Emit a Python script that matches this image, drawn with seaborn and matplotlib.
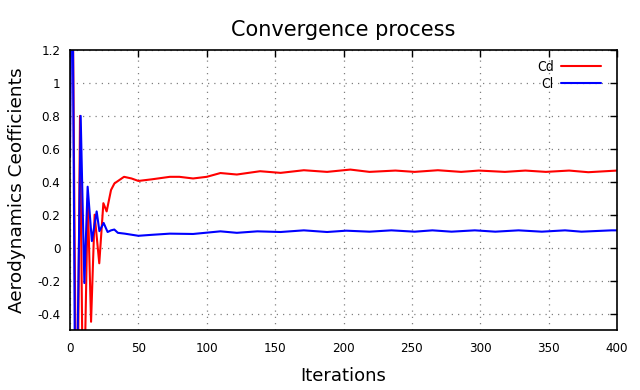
import pandas as pd
import matplotlib
matplotlib.use('Agg')
import matplotlib.pyplot as plt
from matplotlib.ticker import FormatStrFormatter
import seaborn as sns

# values
cd_iter = [0, 2, 4, 6, 7.3, 9, 11, 13, 15.4, 18, 21.4, 24.4, 26.8, 30, 32.5, 36, 39.5, 45,
           50, 55, 60, 73, 80, 90, 100, 110, 122, 139, 154, 171, 188, 205, 219, 238,
           252, 269, 286, 299, 318, 333, 348, 365, 379, 400]
cd_vals = [1.5, 1.5, -0.6, -0.6, 0.8, -0.6, -0.6, 0.3, -0.45, 0.2, -0.095, 0.27, 0.22, 0.35,
           0.39, 0.41, 0.43, 0.42, 0.405, 0.41, 0.415, 0.43, 0.43, 0.42, 0.43, 0.453, 0.444,
           0.464, 0.454, 0.47, 0.46, 0.474, 0.46, 0.468, 0.46, 0.47, 0.46, 0.468, 0.46,
           0.468, 0.46, 0.468, 0.458, 0.468]

cl_iter = [0, 1, 2, 3.5, 5.5, 7.8, 10.5, 12.9, 16, 19.5, 21.5, 24.6, 27.5, 30, 32.4, 35, 40,
           50, 60, 73, 90, 110, 122, 137, 154, 171, 188, 202, 219, 235, 252, 265, 279,
           296, 311, 328, 345, 362, 374, 396, 400]
cl_vals = [0.55, 1.5, 1.5, -0.6, -0.6, 0.8, -0.215, 0.37, 0.04, 0.22, 0.1, 0.15, 0.095, 0.105,
           0.11, 0.09, 0.085, 0.072, 0.078, 0.085, 0.083, 0.099, 0.09, 0.099, 0.095, 0.105,
           0.095, 0.103, 0.097, 0.105, 0.097, 0.105, 0.097, 0.105, 0.097, 0.105, 0.097,
           0.105, 0.097, 0.105, 0.105]

df = pd.concat([
    pd.DataFrame({'iter': cd_iter, 'value': cd_vals, 'coef': 'Cd'}),
    pd.DataFrame({'iter': cl_iter, 'value': cl_vals, 'coef': 'Cl'}),
])

sns.set_style('white')
plt.rcParams['font.family'] = ['DejaVu Sans']
plt.rcParams['font.stretch'] = 'condensed'
plt.rcParams['text.color'] = 'black'
plt.rcParams['axes.labelcolor'] = 'black'

fig = plt.figure(figsize=(6.4, 3.9), dpi=100)
ax = fig.add_axes([70/640, 1-330/390, 547/640, 280/390])

sns.lineplot(data=df, x='iter', y='value', hue='coef', palette={'Cd': '#ff0000', 'Cl': '#0000ff'},
             estimator=None, sort=False, linewidth=1.5, ax=ax)

ax.set_xlim(0, 400)
ax.set_ylim(-0.5, 1.2)
ax.set_xticks(range(0, 401, 50))
ax.set_yticks([-0.4, -0.2, 0, 0.2, 0.4, 0.6, 0.8, 1, 1.2])
ax.yaxis.set_major_formatter(FormatStrFormatter('%g'))
ax.tick_params(direction='in', length=5, width=1, top=True, right=True, labelsize=9.5,
               colors='black')
ax.tick_params(axis='x', pad=9)
ax.tick_params(axis='y', pad=7)
ax.grid(True, linestyle=(0, (1, 4)), color='#808080', linewidth=0.9)
for s in ax.spines.values():
    s.set_color('black')
    s.set_linewidth(1.2)

ax.set_title('Convergence process', fontsize=15, fontstretch='normal', pad=10)
ax.set_xlabel('Iterations', fontsize=13, fontstretch='normal', labelpad=8)
ax.set_ylabel('Aerodynamics Ceofficients', fontsize=13.3, fontstretch='normal', labelpad=8)

leg = ax.legend(loc='upper right', bbox_to_anchor=(0.996, 1.014), frameon=False,
                markerfirst=False, fontsize=10, handlelength=2.9, handletextpad=0.5,
                labelspacing=0.2, borderaxespad=0.6)
for t in leg.get_texts():
    t.set_ha('right')

fig.savefig('out.png', dpi=100)
